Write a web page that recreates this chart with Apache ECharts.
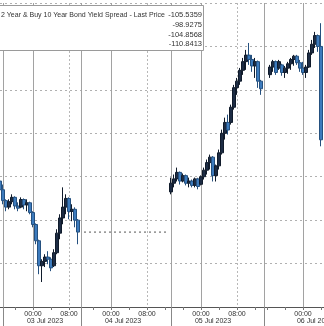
<!DOCTYPE html>
<html><head><meta charset="utf-8">
<script src="https://cdn.jsdelivr.net/npm/echarts@6/dist/echarts.min.js"></script>
<style>html,body{margin:0;padding:0;background:#fff}#c{width:324px;height:326px}</style>
</head><body><div id="c"></div>
<script>
// ---- data ----
const days = ['02 Jul 2023','03 Jul 2023','04 Jul 2023','05 Jul 2023','06 Jul 2023'];
// [day index, start minute, number of 40-minute slots]
const sessions = [[0, 1000, 1], [0, 1040, 26], [1, 1040, 30], [2, 1040, 31], [3, 920, 21]];
const timeTicks = ['00:00','08:00'];
const minorTicks = ['00:00','04:00','08:00','12:00','16:00','20:00'];
const dateTickTime = '02:40';
const seriesName = '2 Year & Buy 10 Year Bond Yield Spread - Last Price';
const legendValues = ['-105.5359','-98.9275','-104.8568','-110.8413'];
const prevClose = -108.55;
const holidaySpan = [28, 56];

// [open, close, low, high]
const sessA = [
  [-106.2,-106.6,-106.81,-106.13],[-106.6,-107.1,-107.27,-106.36],[-107.1,-107.4,-107.59,-107.04],
  [-107.4,-107.15,-107.50,-107.04],[-107.15,-106.95,-107.27,-106.81],[-106.95,-107.35,-107.50,-106.90],
  [-107.35,-107.45,-107.59,-107.18],[-107.4,-107.05,-107.45,-106.95],[-107.05,-107.3,-107.50,-107.0],
  [-107.3,-107.2,-107.59,-107.04],[-107.2,-107.65,-107.73,-107.15],[-107.65,-108.2,-108.33,-107.59],
  [-108.2,-108.95,-109.11,-108.15],[-108.95,-110.1,-110.49,-108.9],[-110.1,-109.9,-110.85,-109.8],
  [-109.9,-109.7,-110.16,-109.57],[-109.7,-109.8,-110.03,-109.43],[-109.8,-110.2,-110.35,-109.71],
  [-110.1,-109.5,-110.16,-109.34],[-109.5,-108.6,-109.57,-108.42],[-108.6,-107.9,-108.88,-107.73],
  [-107.9,-107.4,-108.19,-106.49],[-107.4,-107.0,-107.73,-106.81],[-107.0,-107.6,-107.96,-106.95],
  [-107.6,-107.5,-108.05,-107.27],[-107.5,-108.0,-108.33,-107.41],[-108.0,-108.55,-109.11,-107.95]
];
const sessB = new Array(30).fill(null); // 04 Jul holiday, no trading
const sessC = [
  [-106.7,-106.3,-106.81,-106.04],[-106.3,-106.1,-106.49,-105.90],[-106.1,-105.8,-106.22,-105.58],
  [-105.8,-106.2,-106.36,-105.76],[-106.2,-105.95,-106.26,-105.85],[-105.95,-106.3,-106.40,-105.90],
  [-106.3,-106.2,-106.49,-106.04],[-106.2,-106.4,-106.49,-106.13],[-106.4,-106.1,-106.49,-106.04],
  [-106.1,-106.45,-106.58,-106.05],[-106.35,-106.0,-106.40,-105.94],[-106.0,-105.7,-106.13,-105.58],
  [-105.7,-105.35,-105.90,-105.21],[-105.35,-105.1,-105.67,-104.98],[-105.1,-105.95,-106.22,-105.05],
  [-105.95,-105.5,-106.22,-105.44],[-105.5,-104.9,-105.67,-104.75],[-104.9,-104.0,-104.98,-103.83],
  [-104.0,-103.5,-104.29,-103.28],[-103.5,-103.85,-104.06,-103.14],[-103.5,-102.8,-103.60,-102.68],
  [-102.8,-101.9,-102.91,-101.77],[-101.9,-101.6,-102.23,-101.45],[-101.6,-101.1,-101.77,-100.99],
  [-101.1,-100.7,-101.31,-100.53],[-100.7,-100.4,-101.08,-100.16],[-100.4,-100.6,-100.85,-99.84],
  [-100.6,-100.9,-101.17,-100.39],[-100.9,-100.7,-101.45,-100.53],[-100.7,-101.6,-101.91,-100.65],
  [-101.6,-101.95,-102.23,-101.54]
];
const sessD = [
  null, null,
  [-101.3,-100.95,-101.45,-100.85],[-100.95,-100.7,-101.17,-100.62],[-100.7,-101.2,-101.31,-100.65],
  [-101.0,-100.7,-101.08,-100.62],[-100.85,-101.2,-101.35,-100.80],[-101.2,-101.0,-101.45,-100.90],
  [-101.0,-100.8,-101.26,-100.71],[-100.8,-100.6,-101.08,-100.53],[-100.6,-100.45,-100.89,-100.39],
  [-100.45,-100.75,-100.85,-100.39],[-100.75,-101.0,-101.17,-100.62],[-101.0,-101.2,-101.31,-100.71],
  [-101.2,-100.95,-101.45,-100.85],[-100.95,-100.3,-100.99,-100.16],[-100.3,-99.9,-100.39,-99.70],
  [-99.9,-99.5,-100.07,-99.33],[-99.5,-100.0,-100.25,-99.45],[-100.0,-104.3,-104.6,-98.93],
  null
];

// ---- build ----
const pad = n => String(n).padStart(2, '0');
const categories = [];
const sessionStarts = [];
sessions.forEach(([d, m, n], k) => {
  if (k > 0) sessionStarts.push(categories.length);
  for (let j = 0; j < n; j++) {
    const t = m + 40 * j;
    const mm = t % 1440;
    categories.push(days[d + Math.floor(t / 1440)] + ' ' + pad(Math.floor(mm / 60)) + ':' + pad(mm % 60));
  }
});
const timeOf = v => v.slice(-5);
const dateOf = v => v.slice(0, -6);
const ohlc = [...sessA, ...sessB, ...sessC, ...sessD].map(r => r ? r : ['-','-','-','-']);
const FONT = 'Liberation Sans';

const chart = echarts.init(document.getElementById('c'), null, {renderer: 'canvas'});
chart.setOption({
  animation: false,
  backgroundColor: '#fff',
  grid: {left: 0, right: 0, top: 3, bottom: 19, containLabel: false, outerBoundsMode: 'none'},
  xAxis: [{
    type: 'category', data: categories, boundaryGap: false,
    axisLine: {show: true, lineStyle: {color: '#555', width: 1}},
    axisTick: {show: true, interval: i => sessionStarts.includes(i), length: 19, lineStyle: {color: '#888'}},
    axisLabel: {interval: (i, v) => timeTicks.includes(timeOf(v)), formatter: v => timeOf(v),
      fontSize: 7, fontFamily: FONT, color: '#333', margin: 4, hideOverlap: false},
    splitLine: {show: true, interval: (i, v) => sessionStarts.includes(i) || timeOf(v) === '00:00',
      lineStyle: {color: '#a2a2a2', width: 1}}
  }, {
    type: 'category', data: categories, boundaryGap: false, position: 'bottom',
    axisLine: {show: false},
    axisTick: {show: true, interval: (i, v) => minorTicks.includes(timeOf(v)), length: 3, lineStyle: {color: '#777'}},
    axisLabel: {interval: (i, v) => timeOf(v) === dateTickTime, formatter: v => dateOf(v),
      fontSize: 7, fontFamily: FONT, color: '#333', margin: 11, hideOverlap: false},
    splitLine: {show: true, interval: (i, v) => timeOf(v) === '08:00',
      lineStyle: {color: '#b8b8b8', width: 1, type: [2, 2]}}
  }],
  yAxis: {
    type: 'value', min: -112, max: -98, interval: 2, scale: true,
    axisLabel: {show: false}, axisLine: {show: false}, axisTick: {show: false},
    splitLine: {show: true, lineStyle: {color: '#b0b0b0', width: 1, type: [2, 3]}}
  },
  series: [{
    type: 'candlestick', name: seriesName, data: ohlc, barWidth: 2.6,
    itemStyle: {color: '#1d2c44', color0: '#3d7bbd', borderColor: '#101b2b', borderColor0: '#24507f', borderWidth: 1},
    z: 3
  }, {
    type: 'line', data: [[categories[holidaySpan[0]], prevClose], [categories[holidaySpan[1]], prevClose]],
    symbol: 'none', silent: true,
    lineStyle: {color: '#555', width: 1, type: [2, 3]}, z: 2
  }],
  graphic: [
    {type: 'rect', z: 100, shape: {x: -3.5, y: 5.5, width: 207, height: 45},
      style: {fill: '#fff', stroke: '#9a9a9a', lineWidth: 1}},
    {type: 'text', z: 101, x: 1, y: 15, style: {text: seriesName, fontSize: 7, fontFamily: FONT, fill: '#333', verticalAlign: 'middle', align: 'left'}},
    {type: 'text', z: 101, x: 202, y: 15, style: {text: legendValues[0], fontSize: 7.5, fontFamily: FONT, fill: '#333', verticalAlign: 'middle', align: 'right'}},
    {type: 'text', z: 101, x: 202, y: 25, style: {text: legendValues[1], fontSize: 7.5, fontFamily: FONT, fill: '#333', verticalAlign: 'middle', align: 'right'}},
    {type: 'text', z: 101, x: 202, y: 35, style: {text: legendValues[2], fontSize: 7.5, fontFamily: FONT, fill: '#333', verticalAlign: 'middle', align: 'right'}},
    {type: 'text', z: 101, x: 202, y: 44, style: {text: legendValues[3], fontSize: 7.5, fontFamily: FONT, fill: '#333', verticalAlign: 'middle', align: 'right'}}
  ]
});
</script></body></html>
